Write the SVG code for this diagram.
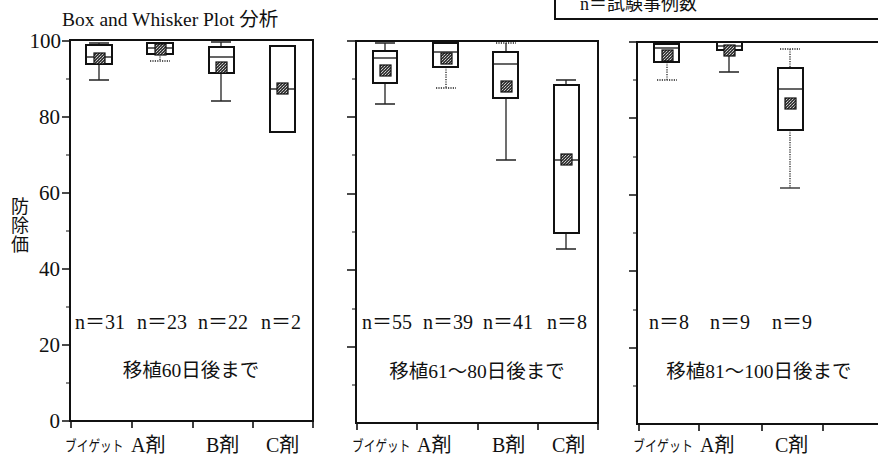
<svg xmlns="http://www.w3.org/2000/svg" width="878" height="455" viewBox="0 0 878 455">
<defs>
<pattern id="ht" width="3" height="3" patternUnits="userSpaceOnUse">
<rect width="3" height="3" fill="#3a3a3a"/>
<rect x="0" y="0" width="1" height="1" fill="#c8c8c8"/>
<rect x="2" y="1" width="1" height="1" fill="#9a9a9a"/>
<rect x="1" y="2" width="1" height="1" fill="#d0d0d0"/>
</pattern>
<style>
.fr{fill:none;stroke:#111;stroke-width:2}
.tk{stroke:#111;stroke-width:1.6}
.mt{stroke:#111;stroke-width:1.2}
.bx{fill:#fff;stroke:#111;stroke-width:2}
.md{stroke:#111;stroke-width:1.3}
.wk{stroke:#222;stroke-width:1.3}
.dt{stroke:#222;stroke-width:1.3;stroke-dasharray:1.2 1.2}
.mk{fill:url(#ht);stroke:#111;stroke-width:1.2}
.t{font-family:"Liberation Serif","Noto Sans CJK JP",serif;fill:#111}
.ax{font-size:21px;text-anchor:end}
.n{font-size:20px;text-anchor:middle}
.c{font-size:19.5px;text-anchor:middle}
.xl{font-size:20px}
.bg{font-size:15px}
</style>
</defs>

<!-- legend box (clipped at top) -->
<g id="legend">
<path class="fr" d="M555,0 V19 H878"/>
<text class="t" x="580" y="10" font-size="18">n＝試験事例数</text>
</g>

<text class="t" x="62" y="26" font-size="19.5">Box and Whisker Plot 分析</text>

<!-- y axis labels -->
<g id="yaxis">
<text class="t ax" x="61" y="48">100</text>
<text class="t ax" x="60" y="124">80</text>
<text class="t ax" x="60" y="200">60</text>
<text class="t ax" x="60" y="276">40</text>
<text class="t ax" x="60" y="352">20</text>
<text class="t ax" x="60" y="428">0</text>
<g class="t" font-size="18" text-anchor="middle">
<text x="20" y="213">防</text>
<text x="20" y="232">除</text>
<text x="20" y="251">価</text>
</g>
</g>

<!-- Panel 1 -->
<g id="panel1">
<rect class="fr" x="70" y="40" width="243" height="381"/>
<path class="tk" d="M62,41H70 M62,117H70 M62,193H70 M62,269H70 M62,345H70 M62,421H70 M71,421V428 M132,421V428 M193,421V428 M253,421V428 M313,421V428"/>
<path class="mt" d="M66,79H70 M66,155H70 M66,231H70 M66,307H70 M66,383H70"/>
<g id="p1b1">
<path class="wk" d="M99,43V45 M89,43H109 M99,64V80 M89,80H109"/>
<rect class="bx" x="86" y="45" width="26" height="19"/>
<path class="md" d="M86,57H112"/>
<rect class="mk" x="94" y="53" width="11" height="11"/>
</g>
<g id="p1b2">
<path class="dt" d="M160,54V61 M150,61H170"/>
<rect class="bx" x="147" y="43" width="26" height="11"/>
<path class="md" d="M147,48H173"/>
<rect class="mk" x="155" y="44" width="11" height="11"/>
</g>
<g id="p1b3">
<path class="wk" d="M221,42V47 M211,42H231 M221,73V101 M211,101H231"/>
<rect class="bx" x="209" y="47" width="25" height="26"/>
<path class="md" d="M209,57H234"/>
<rect class="mk" x="216" y="62" width="11" height="11"/>
</g>
<g id="p1b4">
<rect class="bx" x="270" y="46" width="25" height="86"/>
<path class="md" d="M270,89H295"/>
<rect class="mk" x="277" y="83" width="11" height="11"/>
</g>
<g id="p1txt">
<text class="t n" x="100" y="329">n＝31</text>
<text class="t n" x="162" y="329">n＝23</text>
<text class="t n" x="223" y="329">n＝22</text>
<text class="t n" x="281" y="329">n＝2</text>
<text class="t c" x="191" y="377">移植60日後まで</text>
<text class="t bg" transform="translate(65,451) scale(0.78,1)">ブイゲット</text>
<text class="t xl" x="131" y="452">A剤</text>
<text class="t xl" x="206" y="452">B剤</text>
<text class="t xl" x="266" y="452">C剤</text>
</g>
</g>

<!-- Panel 2 -->
<g id="panel2">
<rect class="fr" x="356" y="41" width="242" height="382"/>
<path class="tk" d="M347,41H356 M347,117H356 M347,194H356 M347,270H356 M347,347H356 M357,423V430 M417,423V430 M478,423V430 M538,423V430 M598,423V430"/>
<path class="mt" d="M352,79H356 M352,155H356 M352,232H356 M352,309H356 M352,385H356"/>
<g id="p2b1">
<path class="wk" d="M385,43V51 M375,43H395 M385,83V104 M375,104H395"/>
<rect class="bx" x="373" y="51" width="24" height="32"/>
<path class="md" d="M373,58H397"/>
<rect class="mk" x="380" y="65" width="11" height="11"/>
</g>
<g id="p2b2">
<path class="dt" d="M446,67V88 M436,88H456"/>
<rect class="bx" x="433" y="43" width="25" height="24"/>
<path class="md" d="M433,52H458"/>
<rect class="mk" x="441" y="53" width="11" height="11"/>
</g>
<g id="p2b3">
<path class="dt" d="M496,43H516"/>
<path class="wk" d="M506,43V52 M506,98V160 M496,160H516"/>
<rect class="bx" x="493" y="52" width="25" height="46"/>
<path class="md" d="M493,64H518"/>
<rect class="mk" x="501" y="81" width="11" height="11"/>
</g>
<g id="p2b4">
<path class="wk" d="M566,80V85 M556,80H576 M566,233V249 M556,249H576"/>
<rect class="bx" x="554" y="85" width="25" height="148"/>
<path class="md" d="M554,160H579"/>
<rect class="mk" x="561" y="154" width="11" height="11"/>
</g>
<g id="p2txt">
<text class="t n" x="387" y="329">n＝55</text>
<text class="t n" x="448" y="329">n＝39</text>
<text class="t n" x="508" y="329">n＝41</text>
<text class="t n" x="567" y="329">n＝8</text>
<text class="t c" x="477" y="378">移植61～80日後まで</text>
<text class="t bg" transform="translate(352,451) scale(0.78,1)">ブイゲット</text>
<text class="t xl" x="417" y="452">A剤</text>
<text class="t xl" x="492" y="452">B剤</text>
<text class="t xl" x="552" y="452">C剤</text>
</g>
</g>

<!-- Panel 3 -->
<g id="panel3">
<path class="fr" d="M880,42 H637 V424 H880"/>
<path class="tk" d="M629,42H637 M629,118H637 M629,195H637 M629,271H637 M629,348H637 M639,424V431 M699,424V431 M762,424V431 M823,424V431"/>
<path class="mt" d="M633,80H637 M633,157H637 M633,233H637 M633,310H637 M633,386H637"/>
<g id="p3b1">
<path class="dt" d="M667,62V80 M657,80H677"/>
<rect class="bx" x="654" y="44" width="25" height="18"/>
<path class="md" d="M654,48H679"/>
<rect class="mk" x="662" y="50" width="11" height="11"/>
</g>
<g id="p3b2">
<path class="wk" d="M729,50V72 M719,72H739"/>
<rect class="bx" x="717" y="42" width="25" height="8"/>
<path class="md" d="M717,46H742"/>
<rect class="mk" x="724" y="45" width="11" height="11"/>
</g>
<g id="p3b3">
<path class="dt" d="M790,49V68 M780,49H800 M790,130V188"/>
<path class="wk" d="M780,188H800"/>
<rect class="bx" x="778" y="68" width="25" height="62"/>
<path class="md" d="M778,89H803"/>
<rect class="mk" x="785" y="98" width="11" height="11"/>
</g>
<g id="p3txt">
<text class="t n" x="669" y="329">n＝8</text>
<text class="t n" x="730" y="329">n＝9</text>
<text class="t n" x="792" y="329">n＝9</text>
<text class="t c" x="759" y="378">移植81～100日後まで</text>
<text class="t bg" transform="translate(633,451) scale(0.8,1)">ブイゲット</text>
<text class="t xl" x="700" y="452">A剤</text>
<text class="t xl" x="775" y="452">C剤</text>
</g>
</g>
</svg>
